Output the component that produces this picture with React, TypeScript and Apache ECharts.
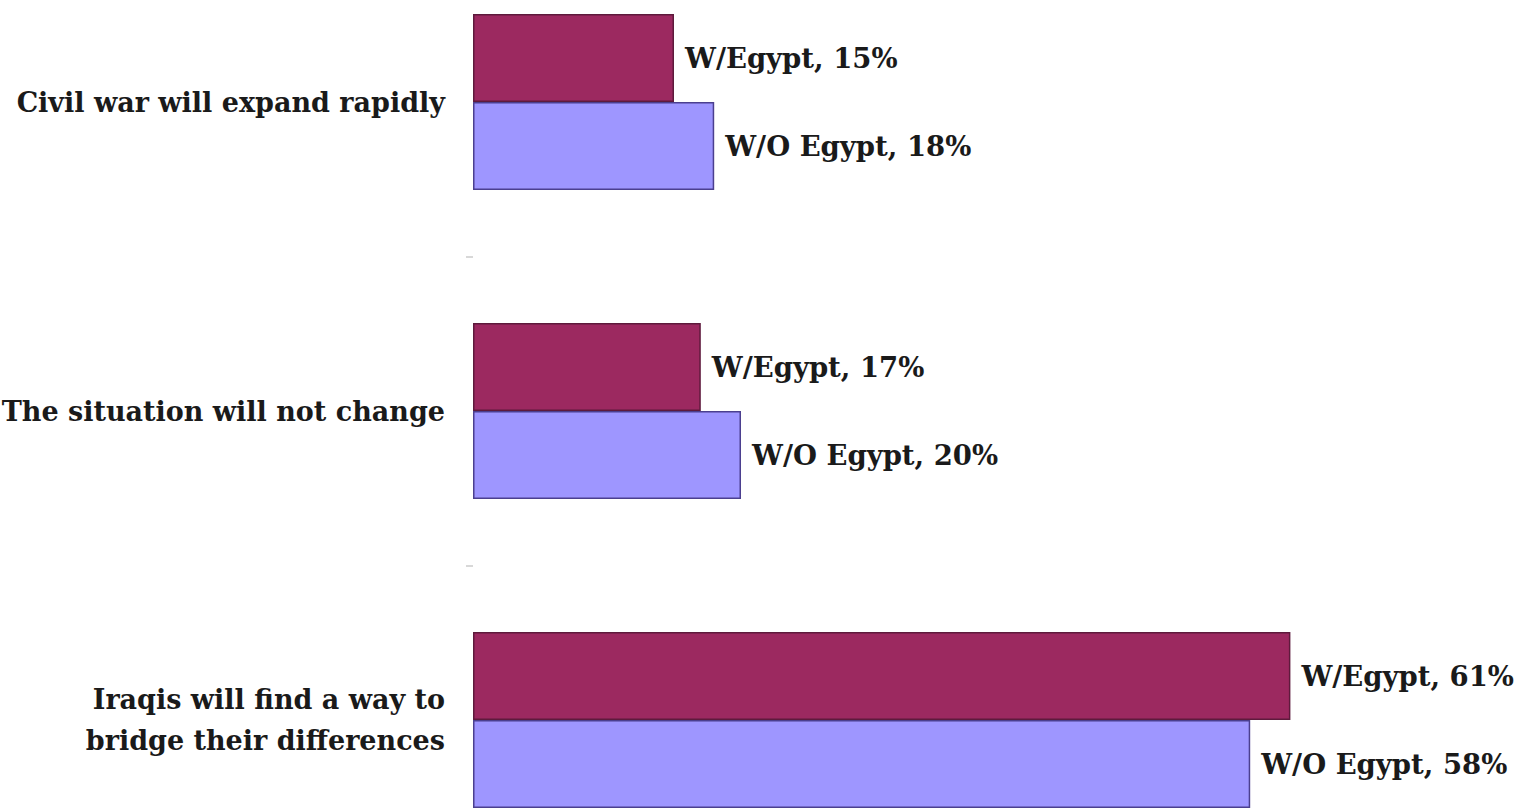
import React, { useEffect, useRef } from "react";
import * as echarts from "echarts";

const categories = [
  "Civil war will expand rapidly",
  "The situation will not change",
  "Iraqis will find a way to\nbridge their differences",
];
const seriesNames = ["W/Egypt", "W/O Egypt"];
const withEgypt = [15, 17, 61];
const withoutEgypt = [18, 20, 58];

const FONT = "'DejaVu Serif', serif";

export default function App() {
  const ref = useRef<HTMLDivElement>(null);
  useEffect(() => {
    document.body.style.margin = "0";
    const chart = echarts.init(ref.current!, null, { renderer: "svg" });
    const mkLabel = (name: string) => ({
      show: true,
      position: "right",
      distance: 11,
      formatter: (p: any) => `${name}, ${p.value}%`,
      fontFamily: FONT,
      fontWeight: "bold",
      fontSize: 27.5,
      color: "#1a1a1a",
    });
    chart.setOption({
      animation: false,
      backgroundColor: "#ffffff",
      grid: {
        left: 473,
        top: -52.5,
        width: 1340,
        height: 927,
        containLabel: false,
        outerBoundsMode: "none",
      },
      xAxis: { type: "value", min: 0, max: 100, show: false },
      yAxis: {
        type: "category",
        inverse: true,
        data: categories,
        axisLine: { show: false },
        axisTick: { show: true, length: 7, lineStyle: { color: "#d8d8d8", width: 2 } },
        axisLabel: {
          margin: 28,
          fontFamily: FONT,
          fontWeight: "bold",
          fontSize: 27,
          color: "#1a1a1a",
          lineHeight: 41,
          align: "right",
        },
      },
      series: [
        {
          name: seriesNames[0],
          type: "bar",
          data: withEgypt,
          barWidth: 88,
          barGap: "0%",
          itemStyle: { color: "#9C2960", borderColor: "#5e1a3c", borderWidth: 1.5 },
          label: mkLabel(seriesNames[0]),
        },
        {
          name: seriesNames[1],
          type: "bar",
          data: withoutEgypt,
          barWidth: 88,
          barGap: "0%",
          itemStyle: { color: "#9E96FF", borderColor: "#4b3f8f", borderWidth: 1.5 },
          label: mkLabel(seriesNames[1]),
        },
      ],
    });
    return () => chart.dispose();
  }, []);
  return (
    <div
      ref={ref}
      style={{ position: "absolute", left: 0, top: 0, width: 1525, height: 808 }}
    />
  );
}
